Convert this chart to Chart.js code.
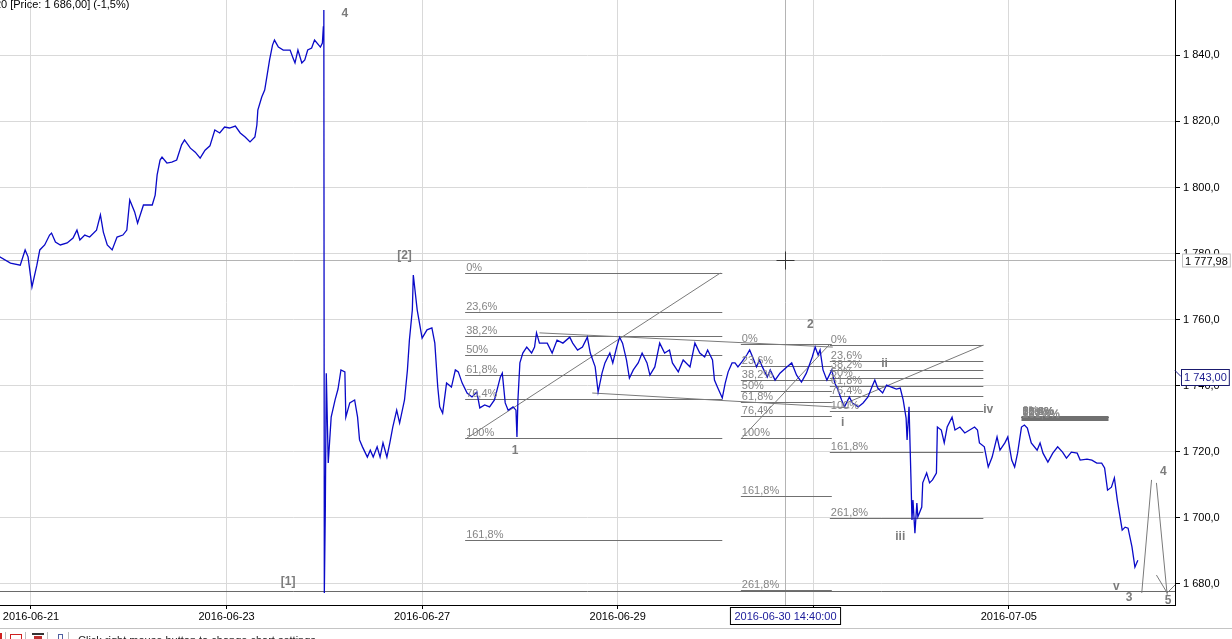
<!DOCTYPE html>
<html><head><meta charset="utf-8">
<script src="https://cdn.jsdelivr.net/npm/chart.js@4.4.0/dist/chart.umd.min.js"></script>
<style>html,body{margin:0;padding:0;background:#fff;overflow:hidden}#wrap{position:relative;width:1232px;height:639px}</style>
</head><body><div id="wrap"><canvas id="c" width="1232" height="639"></canvas></div>
<script>
// ---- data (trading-day index, price) ----
const times = [
-0.32,-0.21,-0.11,-0.06,-0.03,0.01,0.06,0.09,0.14,0.19,0.21,0.25,0.30,0.37,0.43,0.47,0.50,0.55,0.60,0.67,0.71,0.74,0.78,0.83,0.88,0.94,0.98,
1.01,1.06,1.09,1.15,1.24,1.27,1.29,1.32,1.34,1.39,1.44,1.49,1.54,1.57,1.63,1.68,1.73,1.78,1.83,1.88,1.93,1.98,
2.03,2.09,2.14,2.19,2.24,2.29,2.31,2.32,2.36,2.39,2.41,2.44,2.47,2.49,2.53,2.58,2.65,2.68,2.70,2.73,2.77,2.80,2.83,2.87,2.90,2.96,2.98,2.99,2.995,
3.00,3.01,3.02,3.04,3.07,3.11,3.14,3.17,3.21,3.22,3.26,3.31,3.34,3.36,3.39,3.44,3.47,3.50,3.54,3.57,3.60,3.64,3.67,3.70,3.74,3.77,3.82,3.85,3.87,3.90,3.91,3.95,
4.00,4.05,4.10,4.13,4.16,4.18,4.21,4.25,4.30,4.34,4.37,4.41,4.46,4.51,4.56,4.59,4.64,4.69,4.74,4.80,4.82,4.85,4.88,4.93,4.96,4.97,4.98,
5.00,5.03,5.07,5.12,5.15,5.17,5.20,5.28,5.33,5.38,5.44,5.51,5.54,5.59,5.64,5.69,5.72,5.77,5.80,5.84,5.87,5.92,5.95,5.99,
6.02,6.05,6.09,6.12,6.16,6.21,6.25,6.30,6.33,6.38,6.43,6.48,6.53,6.56,6.62,6.67,6.74,6.79,6.84,6.89,6.92,6.97,6.99,
7.02,7.07,7.10,7.13,7.17,7.20,7.23,7.27,7.32,7.35,7.38,7.42,7.45,7.48,7.53,7.56,7.61,7.66,7.73,7.78,7.83,7.88,7.93,7.99,
8.02,8.05,8.07,8.10,8.14,8.19,8.22,8.25,8.29,8.32,8.37,8.40,8.46,8.51,8.56,8.60,8.63,8.66,8.71,8.75,8.80,8.85,8.89,8.92,8.95,8.96,8.98,
9.00,9.01,9.02,9.04,9.06,9.07,9.11,9.12,9.16,9.19,9.22,9.26,9.27,9.31,9.34,9.37,9.42,9.45,9.50,9.55,9.60,9.65,9.68,9.70,9.75,9.79,9.83,9.88,9.91,9.96,9.99,
10.03,10.06,10.09,10.13,10.16,10.19,10.23,10.29,10.32,10.35,10.40,10.45,10.50,10.55,10.59,10.64,10.70,10.73,10.80,10.85,10.90,10.95,10.98,
11.01,11.05,11.08,11.11,11.16,11.19,11.22,11.26,11.29,11.32
];
const prices = [
1779.0,1777.1,1776.5,1781.1,1779.0,1769.9,1776.5,1781.1,1782.6,1785.6,1786.2,1783.5,1782.6,1783.2,1784.7,1787.1,1784.1,1785.6,1785.0,1787.1,1791.7,1786.5,1782.6,1781.1,1785.0,1785.6,1787.1,
1796.2,1792.6,1789.2,1794.7,1794.7,1797.7,1803.8,1808.3,1809.2,1807.4,1807.7,1808.3,1812.9,1814.4,1811.9,1810.7,1808.9,1811.3,1812.6,1817.4,1816.5,1818.3,
1818.0,1818.6,1816.5,1815.3,1813.8,1815.3,1818.9,1823.4,1827.4,1829.5,1833.1,1838.6,1843.1,1844.6,1842.5,1841.6,1841.6,1839.2,1837.7,1841.6,1837.7,1838.6,1841.6,1842.2,1844.6,1842.5,1843.7,1848.6,1853.7,
1677.3,1702.4,1743.8,1716.6,1730.5,1735.7,1739.0,1744.8,1744.2,1730.5,1734.8,1735.7,1730.5,1723.6,1721.5,1718.4,1720.5,1718.4,1721.5,1718.4,1722.7,1718.4,1722.7,1727.5,1732.6,1728.7,1735.7,1744.8,1753.8,1762.9,1773.5,1762.9,
1754.4,1756.9,1757.5,1752.9,1739.6,1733.6,1731.7,1740.8,1739.6,1744.8,1744.2,1740.8,1737.8,1736.6,1738.1,1733.3,1734.2,1733.6,1735.7,1742.6,1743.8,1734.8,1732.6,1733.6,1732.6,1724.5,1735.7,
1746.9,1749.9,1751.7,1749.9,1751.7,1756.0,1752.9,1752.9,1749.9,1753.8,1752.9,1754.7,1752.9,1750.8,1751.7,1754.7,1749.9,1745.7,1738.1,1743.8,1746.9,1749.9,1746.9,1751.7,
1754.7,1752.9,1747.8,1742.3,1744.8,1746.9,1749.9,1746.9,1743.2,1745.7,1752.9,1749.9,1750.8,1746.9,1744.2,1747.8,1745.7,1752.9,1749.9,1748.7,1750.8,1747.8,1741.7,
1739.6,1736.3,1740.8,1744.2,1746.9,1746.9,1745.7,1747.2,1749.3,1750.8,1748.7,1745.7,1747.8,1745.7,1742.6,1744.8,1741.7,1743.8,1745.7,1746.9,1743.2,1741.1,1743.8,1748.7,
1751.7,1749.3,1750.8,1744.8,1741.7,1744.8,1740.8,1739.0,1735.7,1733.6,1736.6,1734.8,1733.6,1734.8,1736.6,1739.6,1741.7,1739.3,1737.8,1740.2,1739.6,1739.0,1739.3,1735.7,1730.2,1723.6,1733.6,
1711.5,1699.4,1705.4,1695.4,1704.5,1700.3,1703.3,1710.6,1713.6,1710.6,1711.5,1713.6,1727.5,1726.6,1722.7,1727.5,1730.5,1726.6,1727.5,1725.7,1726.6,1727.5,1726.6,1722.7,1721.5,1715.4,1718.4,1724.5,1720.5,1722.7,1724.5,
1717.5,1715.4,1719.6,1727.5,1728.1,1727.2,1722.7,1720.5,1722.7,1719.6,1716.9,1719.6,1721.5,1719.9,1718.1,1719.9,1719.6,1717.5,1717.8,1717.5,1716.6,1716.6,1715.1,
1708.4,1709.3,1712.1,1705.4,1696.3,1697.2,1696.9,1691.2,1685.1,1687.2
];
const tickDays = [0, 2, 4, 6, 8, 10];
const tickLabels = ["2016-06-21","2016-06-23","2016-06-27","2016-06-29","2016-07-01","2016-07-05"];
const yTicks = [1680, 1700, 1720, 1740, 1760, 1780, 1800, 1820, 1840];
const xRange = [-0.317, 11.70];
const yRange = [1673.64, 1856.74];

// Fibonacci retracement drawings
const fibRatios = [0, 0.236, 0.382, 0.5, 0.618, 0.764, 1, 1.618, 2.618];
const fibLabels = ["0%","23,6%","38,2%","50%","61,8%","76,4%","100%","161,8%","261,8%"];
const fibStart = [4.44, 7.26, 8.17, 10.13];
const fibEnd   = [7.07, 8.19, 9.74, 11.02];
const fibHigh  = [1774.1, 1752.6, 1752.3, 1730.8];
const fibLow   = [1724.2, 1724.2, 1732.3, 1730.3];
// trend / channel / projection segments [x1, y1, x2, y2]
const segments = [
  [4.46, 1724.2, 7.05, 1774.1],
  [7.27, 1724.2, 8.17, 1752.6],
  [8.34, 1734.8, 9.74, 1752.3],
  [5.20, 1756.0, 8.20, 1751.7],
  [5.74, 1737.8, 8.37, 1733.3],
  [11.36, 1677.3, 11.46, 1711.5],
  [11.51, 1710.6, 11.62, 1676.7],
  [11.51, 1682.7, 11.62, 1677.3],
  [11.62, 1677.3, 11.72, 1680.3]
];
const lowLine = 1677.9;
// Elliott wave labels
const waveText = ["4","[2]","[1]","1","2","ii","i","iii","iv","v","3","4","5"];
const waveX = [3.21, 3.82, 2.63, 4.95, 7.97, 8.73, 8.30, 8.89, 9.79, 11.10, 11.23, 11.58, 11.63];
const waveY = [1852.5, 1779.3, 1680.6, 1720.2, 1758.4, 1746.6, 1728.7, 1694.2, 1732.6, 1679.1, 1675.8, 1713.9, 1674.8];
// crosshair & markers
const crossX = 7.71, crossY = 1777.98;
const crossDate = "2016-06-30 14:40:00";
const lastPrice = 1743.00;
const header = "20 [Price: 1 686,00] (-1,5%)";

const FONT = "'Liberation Sans', Arial, sans-serif";
Chart.defaults.font.family = FONT;
Chart.defaults.font.size = 11;
Chart.defaults.color = '#000';

function fmtPrice(v, dec) {
  const s = v.toFixed(dec).replace('.', ',');
  const [ip, fp] = s.split(',');
  const i = ip.length > 3 ? ip.slice(0, ip.length - 3) + ' ' + ip.slice(-3) : ip;
  return fp !== undefined ? i + ',' + fp : i;
}

const overlay = {
  id: 'overlay',
  beforeDatasetsDraw(chart) {
    const ctx = chart.ctx, a = chart.chartArea;
    const sx = v => chart.scales.x.getPixelForValue(v);
    const sy = v => chart.scales.y.getPixelForValue(v);
    ctx.save();
    ctx.beginPath(); ctx.rect(a.left, a.top, a.right - a.left, a.bottom - a.top); ctx.clip();
    ctx.strokeStyle = '#b4b4b4'; ctx.lineWidth = 1;
    const cx = Math.round(sx(crossX)) + 0.5, cy = Math.round(sy(crossY)) + 0.5;
    ctx.beginPath(); ctx.moveTo(cx, a.top); ctx.lineTo(cx, a.bottom); ctx.stroke();
    ctx.beginPath(); ctx.moveTo(a.left, cy); ctx.lineTo(a.right, cy); ctx.stroke();
    ctx.strokeStyle = '#6a6a6a';
    const ly = Math.round(sy(lowLine)) + 0.5;
    ctx.beginPath(); ctx.moveTo(a.left, ly); ctx.lineTo(a.right, ly); ctx.stroke();
    ctx.strokeStyle = '#707070';
    for (let f = 0; f < fibStart.length; f++) {
      const x1 = sx(fibStart[f]), x2 = sx(fibEnd[f]);
      for (let r = 0; r < fibRatios.length; r++) {
        const p = fibHigh[f] - fibRatios[r] * (fibHigh[f] - fibLow[f]);
        const y = Math.round(sy(p)) + 0.5;
        if (y > a.bottom || y < a.top) continue;
        ctx.beginPath(); ctx.moveTo(x1, y); ctx.lineTo(x2, y); ctx.stroke();
      }
    }
    ctx.strokeStyle = '#7a7a7a';
    segments.forEach(s => {
      ctx.beginPath(); ctx.moveTo(sx(s[0]), sy(s[1])); ctx.lineTo(sx(s[2]), sy(s[3])); ctx.stroke();
    });
    ctx.restore();
  },
  afterDraw(chart) {
    const ctx = chart.ctx, a = chart.chartArea;
    const sx = v => chart.scales.x.getPixelForValue(v);
    const sy = v => chart.scales.y.getPixelForValue(v);
    ctx.save();
    ctx.font = '11px ' + FONT; ctx.fillStyle = '#858585';
    ctx.textAlign = 'left'; ctx.textBaseline = 'alphabetic';
    for (let f = 0; f < fibStart.length; f++) {
      const x1 = sx(fibStart[f]);
      for (let r = 0; r < fibRatios.length; r++) {
        const p = fibHigh[f] - fibRatios[r] * (fibHigh[f] - fibLow[f]);
        const y = sy(p);
        if (y > a.bottom || y < a.top) continue;
        ctx.fillText(fibLabels[r], x1 + 1, y - 2);
      }
    }
    ctx.font = 'bold 12px ' + FONT; ctx.fillStyle = '#7c7c7c';
    ctx.textAlign = 'center'; ctx.textBaseline = 'middle';
    waveText.forEach((t, i) => ctx.fillText(t, sx(waveX[i]), sy(waveY[i])));
    const cx = Math.round(sx(crossX)) + 0.5, cy = Math.round(sy(crossY)) + 0.5;
    ctx.strokeStyle = '#333'; ctx.lineWidth = 1;
    ctx.beginPath(); ctx.moveTo(cx - 9, cy); ctx.lineTo(cx + 9, cy); ctx.moveTo(cx, cy - 9); ctx.lineTo(cx, cy + 9); ctx.stroke();
    ctx.font = '11px ' + FONT; ctx.textAlign = 'left'; ctx.textBaseline = 'middle';
    let t = fmtPrice(crossY, 2);
    let w = ctx.measureText(t).width + 5;
    ctx.fillStyle = '#fff'; ctx.fillRect(a.right + 7.5, cy - 6.5, w, 13);
    ctx.strokeStyle = '#c0c0c0'; ctx.strokeRect(a.right + 7.5, cy - 6.5, w, 13);
    ctx.fillStyle = '#000'; ctx.fillText(t, a.right + 10, cy + 1);
    const py = Math.round(sy(lastPrice)) + 0.5;
    t = fmtPrice(lastPrice, 2);
    w = ctx.measureText(t).width + 5;
    ctx.fillStyle = '#fff'; ctx.fillRect(a.right + 6.5, py - 7, w, 16);
    ctx.strokeStyle = '#1a1a6e'; ctx.strokeRect(a.right + 6.5, py - 7, w, 16);
    ctx.fillStyle = '#1c1c8e'; ctx.fillText(t, a.right + 9, py + 1.5);
    ctx.strokeStyle = '#1c1c8e';
    ctx.beginPath(); ctx.moveTo(a.right, py - 6); ctx.lineTo(a.right + 6, py); ctx.stroke();
    t = crossDate;
    w = ctx.measureText(t).width + 8;
    ctx.textAlign = 'center';
    ctx.fillStyle = '#fff'; ctx.fillRect(cx - w / 2, a.bottom + 2.5, w, 17);
    ctx.strokeStyle = '#000'; ctx.strokeRect(cx - w / 2, a.bottom + 2.5, w, 17);
    ctx.fillStyle = '#1a1a9a'; ctx.fillText(t, cx, a.bottom + 12);
    ctx.textAlign = 'left'; ctx.textBaseline = 'alphabetic'; ctx.fillStyle = '#000';
    ctx.font = '11px ' + FONT;
    const w2 = ctx.measureText('2').width;
    ctx.fillText(header, 1 - w2, 8);
    ctx.strokeStyle = '#c4c4c4';
    ctx.beginPath(); ctx.moveTo(0, 628.5); ctx.lineTo(1232, 628.5); ctx.stroke();
    ctx.fillStyle = '#d02020'; ctx.fillRect(0, 633, 2, 6);
    ctx.strokeStyle = '#d02020'; ctx.strokeRect(10.5, 634.5, 11, 6);
    ctx.fillStyle = '#333'; ctx.fillRect(32, 633, 12, 2);
    ctx.fillStyle = '#c03030'; ctx.fillRect(34, 636, 8, 3);
    ctx.strokeStyle = '#5060a0'; ctx.strokeRect(58.5, 634.5, 4, 5);
    ctx.strokeStyle = '#bbb';
    [5.5, 25.5, 47.5, 68.5].forEach(x => { ctx.beginPath(); ctx.moveTo(x, 632); ctx.lineTo(x, 639); ctx.stroke(); });
    ctx.fillStyle = '#222'; ctx.font = '11px ' + FONT; ctx.textBaseline = 'top';
    ctx.fillText('Click right mouse button to change chart settings', 78, 635);
    ctx.restore();
  }
};

new Chart(document.getElementById('c'), {
  type: 'line',
  data: {
    datasets: [{
      data: times.map((t, i) => ({ x: t, y: prices[i] })),
      borderColor: '#0a0ac8',
      borderWidth: 1.3,
      pointRadius: 0,
      tension: 0,
      fill: false
    }]
  },
  options: {
    responsive: false,
    animation: false,
    events: [],
    layout: { padding: 0 },
    plugins: { legend: { display: false }, tooltip: { enabled: false } },
    scales: {
      x: {
        type: 'linear', position: 'bottom',
        min: xRange[0], max: xRange[1],
        afterBuildTicks: s => { s.ticks = tickDays.map(v => ({ value: v })); },
        afterFit: s => { s.height = 34; s.paddingLeft = 0; s.paddingRight = 0; },
        ticks: {
          autoSkip: false, maxRotation: 0, padding: 1, color: '#000',
          callback: v => { const i = tickDays.indexOf(v); return i >= 0 ? tickLabels[i] : ''; }
        },
        grid: { color: '#d9d9d9', tickColor: '#000', tickLength: 4, lineWidth: 1 },
        border: { color: '#000', width: 1 }
      },
      y: {
        type: 'linear', position: 'right',
        min: yRange[0], max: yRange[1],
        afterBuildTicks: s => { s.ticks = yTicks.map(v => ({ value: v })); },
        afterFit: s => { s.width = 57; s.paddingTop = 0; s.paddingBottom = 0; },
        ticks: { padding: 3, color: '#000', callback: v => fmtPrice(v, 1) },
        grid: { color: '#d9d9d9', tickColor: '#000', tickLength: 5, lineWidth: 1 },
        border: { color: '#000', width: 1 }
      }
    }
  },
  plugins: [overlay]
});
</script></body></html>
